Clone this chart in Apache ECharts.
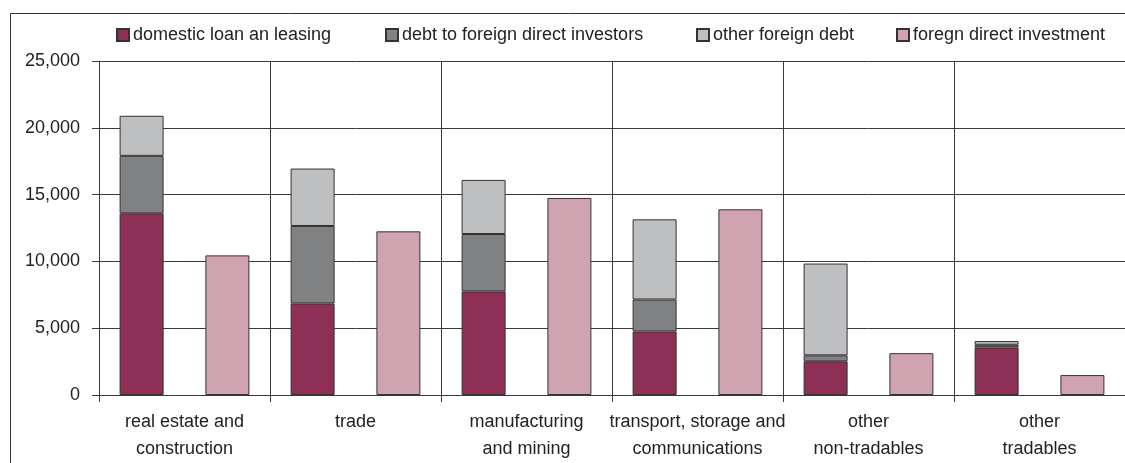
<!DOCTYPE html>
<html>
<head>
<meta charset="utf-8">
<script src="https://cdn.jsdelivr.net/npm/echarts@6/dist/echarts.min.js"></script>
<style>
html,body{margin:0;padding:0;background:#fff;}
#chart{width:1125px;height:463px;}
</style>
</head>
<body>
<div id="chart"></div>
<script>
const categories = ['real estate and\nconstruction', 'trade', 'manufacturing\nand mining', 'transport, storage and\ncommunications', 'other\nnon-tradables', 'other\ntradables'];
const domesticLoan = [13600, 6850, 7750, 4750, 2520, 3560];
const debtToFDI = [4300, 5800, 4300, 2400, 450, 200];
const otherForeignDebt = [3000, 4300, 4050, 6000, 6870, 280];
const fdi = [10450, 12250, 14750, 13900, 3130, 1490];
const seriesNames = ['domestic loan an leasing', 'debt to foreign direct investors', 'other foreign debt', 'foregn direct investment'];
const yTicks = [0, 5000, 10000, 15000, 20000, 25000];

const colors = ['#8E2F56', '#808183', '#BEBFC1', '#D0A3B0'];
const font = 'Liberation Sans, Arial, sans-serif';
const chart = echarts.init(document.getElementById('chart'));
const lineColor = '#3a3a3a';
const barStyle = (c) => ({color: c, borderColor: '#333', borderWidth: 1});
const legendPos = [116, 385, 696, 896];

chart.setOption({
  animation: false,
  textStyle: {fontFamily: font},
  graphic: [{
    type: 'rect', shape: {x: 10.5, y: 13.5, width: 1200, height: 500},
    style: {fill: 'none', stroke: '#333', lineWidth: 1}, z: -10, silent: true
  }],
  legend: seriesNames.map((n, i) => ({
    data: [{name: n, icon: 'rect'}], left: legendPos[i], top: 26, padding: 0,
    itemWidth: 12, itemHeight: 12, itemGap: 0,
    textStyle: {fontFamily: font, fontSize: 18, color: '#222', padding: [0, 0, 0, -1]},
    selectedMode: false
  })),
  grid: {left: 99, right: 0, top: 61, bottom: 68, containLabel: false},
  xAxis: {
    type: 'category', data: categories, boundaryGap: true,
    axisLine: {lineStyle: {color: lineColor}},
    axisTick: {show: true, length: 7, inside: false, lineStyle: {color: lineColor}},
    splitLine: {show: true, lineStyle: {color: lineColor, width: 1}},
    axisLabel: {fontFamily: font, fontSize: 18, color: '#222', lineHeight: 27, margin: 14, interval: 0}
  },
  yAxis: {
    type: 'value', min: yTicks[0], max: yTicks[yTicks.length - 1], interval: 5000,
    axisLine: {show: true, lineStyle: {color: lineColor}},
    axisTick: {show: true, length: 7, lineStyle: {color: lineColor}},
    splitLine: {show: true, lineStyle: {color: lineColor, width: 1}},
    axisLabel: {fontFamily: font, fontSize: 18, color: '#222', margin: 19,
      formatter: v => v.toLocaleString('en-US')}
  },
  series: [
    {name: seriesNames[0], type: 'bar', stack: 'debt', data: domesticLoan, barWidth: 44, barGap: '95%', itemStyle: barStyle(colors[0])},
    {name: seriesNames[1], type: 'bar', stack: 'debt', data: debtToFDI, barWidth: 44, barGap: '95%', itemStyle: barStyle(colors[1])},
    {name: seriesNames[2], type: 'bar', stack: 'debt', data: otherForeignDebt, barWidth: 44, barGap: '95%', itemStyle: barStyle(colors[2])},
    {name: seriesNames[3], type: 'bar', data: fdi, barWidth: 44, barGap: '95%', itemStyle: barStyle(colors[3])}
  ]
});
</script>
</body>
</html>
